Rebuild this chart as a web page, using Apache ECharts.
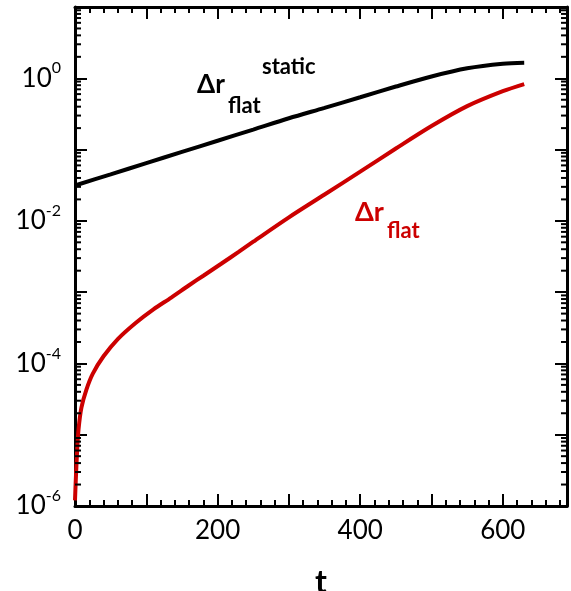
<!DOCTYPE html>
<html><head><meta charset="utf-8">
<script src="https://cdn.jsdelivr.net/npm/echarts@6/dist/echarts.min.js"></script>
<style>html,body{margin:0;padding:0;background:#fff}#c{width:571px;height:591px}</style>
</head><body><div id="c"></div>
<script>
// ---- data ----
const tBlack = [0, 50, 100, 150, 200, 250, 300, 350, 400, 450, 500, 550, 600, 630];
const vBlack = [0.0313, 0.0449, 0.0646, 0.0927, 0.133, 0.191, 0.275, 0.385, 0.542, 0.766, 1.06, 1.38, 1.60, 1.65];
const tRed = [0, 1, 3, 5, 9, 16, 25, 40, 60, 85, 110, 135, 160, 180, 205, 230, 250, 300, 350, 400, 450, 500, 550, 600, 630];
const vRed = [1.2e-6, 2.2e-6, 6.0e-6, 1.2e-5, 2.4e-5, 4.3e-5, 7.2e-5, 1.26e-4, 2.2e-4, 3.7e-4, 5.75e-4, 8.4e-4, 1.25e-3, 1.7e-3, 2.5e-3, 3.7e-3, 5.1e-3, 0.0112, 0.0234, 0.049, 0.1035, 0.214, 0.407, 0.66, 0.83];
const xTickLabels = [0, 200, 400, 600];
const yLabelExps = [-6, -4, -2, 0];
const xName = 't';

// ---- style ----
const FONT = 'Lato, "Noto Sans", sans-serif';
const RED = '#cc0000';
const X_MIN = 0, X_MAX = 690;
const Y_MIN_EXP = -6, Y_MAX_EXP = 1;

// minor log tick values 2..9 x 10^n
const minorTickVals = [];
for (let n = Y_MIN_EXP; n < Y_MAX_EXP; n++) {
  for (let k = 2; k <= 9; k++) minorTickVals.push(k * Math.pow(10, n));
}

const lineStyleAxis = { color: '#000', width: 3 };
function xAxisDef(pos, interval, len, labels, line) {
  return {
    type: 'value', position: pos, min: X_MIN, max: X_MAX, interval: interval,
    axisLine: { show: line, onZero: false, lineStyle: lineStyleAxis },
    axisTick: { show: true, inside: true, length: len, lineStyle: { color: '#000', width: 2 } },
    axisLabel: labels ? {
      show: true, margin: 12, color: '#000', fontSize: 26, fontFamily: FONT,
      showMaxLabel: false,
      formatter: v => xTickLabels.indexOf(v) >= 0 ? String(v) : ''
    } : { show: false },
    splitLine: { show: false },
    name: labels ? xName : '', nameLocation: 'middle', nameGap: 61,
    nameTextStyle: { fontSize: 32, fontWeight: 'bold', fontFamily: FONT, color: '#000' }
  };
}
function yLogDef(pos, labels) {
  return {
    type: 'log', logBase: 10, position: pos, min: Math.pow(10, Y_MIN_EXP), max: Math.pow(10, Y_MAX_EXP), interval: 1,
    axisLine: { show: true, onZero: false, lineStyle: lineStyleAxis },
    axisTick: { show: true, inside: true, length: 12, lineStyle: { color: '#000', width: 2 } },
    axisLabel: labels ? {
      show: true, margin: 14, color: '#000', fontFamily: FONT,
      formatter: v => {
        const e = Math.round(Math.log10(v));
        return yLabelExps.indexOf(e) >= 0 ? '{b|10}{s|' + e + '}' : '';
      },
      rich: {
        b: { fontSize: 26, lineHeight: 36, fontFamily: FONT, color: '#000' },
        s: { fontSize: 16, lineHeight: 16, verticalAlign: 'top', fontFamily: FONT, color: '#000' }
      }
    } : { show: false },
    splitLine: { show: false }
  };
}

const labelGraphics = [
  { type: 'text', x: 197, y: 85, style: { text: 'Δr', fill: '#000', font: 'bold 26px ' + FONT, verticalAlign: 'middle' } },
  { type: 'text', x: 228, y: 106, style: { text: 'flat', fill: '#000', font: 'bold 22px ' + FONT, verticalAlign: 'middle' } },
  { type: 'text', x: 262, y: 67, style: { text: 'static', fill: '#000', font: 'bold 22px ' + FONT, verticalAlign: 'middle' } },
  { type: 'text', x: 355, y: 212, style: { text: 'Δr', fill: RED, font: 'bold 27px ' + FONT, verticalAlign: 'middle' } },
  { type: 'text', x: 387, y: 231, style: { text: 'flat', fill: RED, font: 'bold 22px ' + FONT, verticalAlign: 'middle' } }
];

const option = {
  animation: false,
  backgroundColor: '#fff',
  grid: { left: 75, right: 4, top: 7, bottom: 85, containLabel: false, outerBoundsMode: 'none' },
  xAxis: [
    xAxisDef('bottom', 100, 12, true, true),
    xAxisDef('bottom', 20, 6, false, false),
    xAxisDef('top', 100, 12, false, true),
    xAxisDef('top', 20, 6, false, false)
  ],
  yAxis: [
    yLogDef('left', true),
    yLogDef('right', false)
  ],
  series: [
    {
      type: 'line', name: 'static', xAxisIndex: 0, yAxisIndex: 0,
      data: tBlack.map((t, i) => [t, vBlack[i]]),
      smooth: 0.3, symbol: 'none',
      lineStyle: { color: '#000', width: 4 }
    },
    {
      type: 'line', name: 'flat', xAxisIndex: 0, yAxisIndex: 0,
      data: tRed.map((t, i) => [t, vRed[i]]),
      smooth: 0.3, symbol: 'none',
      lineStyle: { color: RED, width: 4 }
    }
  ],
  graphic: labelGraphics
};
const chart = echarts.init(document.getElementById('c'), null, { renderer: 'canvas' });
chart.setOption(option);

// minor ticks of the log axes (left and right frame), positioned through the axis scale
const finder = { xAxisIndex: 0, yAxisIndex: 0 };
const pL = chart.convertToPixel(finder, [X_MIN, 1]);
const pR = chart.convertToPixel(finder, [X_MAX, 1]);
const TICK_LEN = 6;
const tickGraphics = [];
minorTickVals.forEach(v => {
  const y = chart.convertToPixel(finder, [X_MIN, v])[1];
  tickGraphics.push({ type: 'line', silent: true, z: 50, shape: { x1: pL[0], y1: y, x2: pL[0] + TICK_LEN, y2: y }, style: { stroke: '#000', lineWidth: 2 } });
  tickGraphics.push({ type: 'line', silent: true, z: 50, shape: { x1: pR[0] - TICK_LEN, y1: y, x2: pR[0], y2: y }, style: { stroke: '#000', lineWidth: 2 } });
});
chart.setOption({ graphic: labelGraphics.concat(tickGraphics) }, { replaceMerge: ['graphic'] });
</script>
</body></html>
